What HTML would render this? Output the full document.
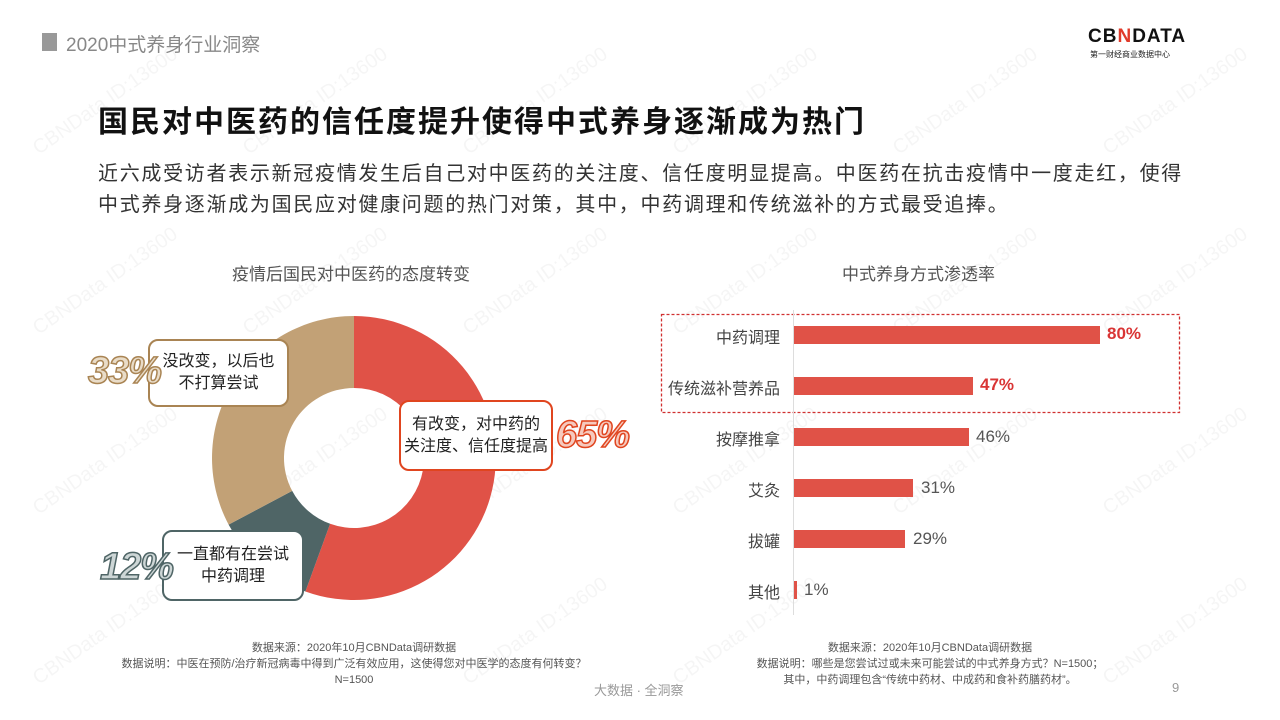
<!DOCTYPE html>
<html><head><meta charset="utf-8"><style>
body{margin:0;width:1280px;height:720px;background:#fff;font-family:"Liberation Sans","Noto Sans CJK SC",sans-serif;position:relative;overflow:hidden;color:#333}
.a{position:absolute;white-space:nowrap}
.wm{position:absolute;color:#000;opacity:.035;font-size:20px;transform:rotate(-35deg);white-space:nowrap}
.pct{position:absolute;font-style:italic;font-weight:bold;font-size:38px;font-family:"Liberation Sans",sans-serif;color:#fff;-webkit-text-stroke:1.5px;letter-spacing:-1px}
.box{position:absolute;background:#fff;border-radius:10px;border:2px solid;box-sizing:border-box;font-size:16px;color:#222;text-align:center;line-height:22px;display:flex;align-items:center;justify-content:center}
.lbl{position:absolute;right:500px;font-size:16px;color:#444}
.bar{position:absolute;left:794px;height:18px;background:#e05247}
.v{position:absolute;font-size:17px;color:#555}
</style></head><body>
<div class="wm" style="left:20px;top:90px">CBNData ID:13600</div>
<div class="wm" style="left:230px;top:90px">CBNData ID:13600</div>
<div class="wm" style="left:450px;top:90px">CBNData ID:13600</div>
<div class="wm" style="left:660px;top:90px">CBNData ID:13600</div>
<div class="wm" style="left:880px;top:90px">CBNData ID:13600</div>
<div class="wm" style="left:1090px;top:90px">CBNData ID:13600</div>
<div class="wm" style="left:20px;top:270px">CBNData ID:13600</div>
<div class="wm" style="left:230px;top:270px">CBNData ID:13600</div>
<div class="wm" style="left:450px;top:270px">CBNData ID:13600</div>
<div class="wm" style="left:660px;top:270px">CBNData ID:13600</div>
<div class="wm" style="left:880px;top:270px">CBNData ID:13600</div>
<div class="wm" style="left:1090px;top:270px">CBNData ID:13600</div>
<div class="wm" style="left:20px;top:450px">CBNData ID:13600</div>
<div class="wm" style="left:230px;top:450px">CBNData ID:13600</div>
<div class="wm" style="left:450px;top:450px">CBNData ID:13600</div>
<div class="wm" style="left:660px;top:450px">CBNData ID:13600</div>
<div class="wm" style="left:880px;top:450px">CBNData ID:13600</div>
<div class="wm" style="left:1090px;top:450px">CBNData ID:13600</div>
<div class="wm" style="left:20px;top:620px">CBNData ID:13600</div>
<div class="wm" style="left:450px;top:620px">CBNData ID:13600</div>
<div class="wm" style="left:660px;top:620px">CBNData ID:13600</div>
<div class="wm" style="left:1090px;top:620px">CBNData ID:13600</div>

<div class="a" style="left:42px;top:33px;width:15px;height:18px;background:#999"></div>
<div class="a" style="left:66px;top:30px;font-size:19px;color:#888">2020中式养身行业洞察</div>
<div class="a" style="left:1088px;top:26px;font-size:19px;font-weight:bold;color:#111;letter-spacing:1px">CB<span style="color:#e03a2a">N</span>DATA</div>
<div class="a" style="left:1090px;top:49px;font-size:8px;color:#222">第一财经商业数据中心</div>

<div class="a" style="left:98px;top:97px;font-size:30px;font-weight:bold;color:#111;letter-spacing:2px">国民对中医药的信任度提升使得中式养身逐渐成为热门</div>
<div class="a" style="left:98px;top:159px;font-size:20px;line-height:31px;color:#333;letter-spacing:1.7px">近六成受访者表示新冠疫情发生后自己对中医药的关注度、信任度明显提高。中医药在抗击疫情中一度走红，使得<br>中式养身逐渐成为国民应对健康问题的热门对策，其中，中药调理和传统滋补的方式最受追捧。</div>

<div class="a" style="left:232px;top:260px;font-size:17px;color:#555">疫情后国民对中医药的态度转变</div>
<div class="a" style="left:842px;top:260px;font-size:17px;color:#555">中式养身方式渗透率</div>

<svg class="a" style="left:0;top:0" width="1280" height="720">
<path d="M354,316 A142,142 0 1 1 305.4,591.5 L330.1,523.8 A70,70 0 1 0 354,388 Z" fill="#e05247"/>
<path d="M305.4,591.5 A142,142 0 0 1 228.6,524.6 L292.2,490.9 A70,70 0 0 0 330.1,523.8 Z" fill="#4f6566"/>
<path d="M228.6,524.6 A142,142 0 0 1 354,316 L354,388 A70,70 0 0 0 292.2,490.9 Z" fill="#c2a176"/>
<rect x="661.5" y="314.5" width="518" height="98" fill="none" stroke="#d03030" stroke-width="1.3" stroke-dasharray="3,2"/>
<line x1="793.5" y1="310" x2="793.5" y2="615" stroke="#ddd" stroke-width="1"/>
</svg>

<div class="box" style="left:148px;top:339px;width:141px;height:68px;border-color:#a98453">没改变，以后也<br>不打算尝试</div>
<div class="box" style="left:399px;top:400px;width:154px;height:71px;border-color:#e0451f">有改变，对中药的<br>关注度、信任度提高</div>
<div class="box" style="left:162px;top:530px;width:142px;height:71px;border-color:#4f6566">一直都有在尝试<br>中药调理</div>
<div class="pct" style="left:88px;top:350px;-webkit-text-stroke-color:#a98453;color:#e9dcc8">33%</div>
<div class="pct" style="left:556px;top:414px;-webkit-text-stroke-color:#e0451f;color:#f6c9bd">65%</div>
<div class="pct" style="left:100px;top:546px;-webkit-text-stroke-color:#4f6566;color:#cdd6d6">12%</div>

<div class="lbl" style="top:324px">中药调理</div>
<div class="lbl" style="top:375px">传统滋补营养品</div>
<div class="lbl" style="top:426px">按摩推拿</div>
<div class="lbl" style="top:477px">艾灸</div>
<div class="lbl" style="top:528px">拔罐</div>
<div class="lbl" style="top:579px">其他</div>
<div class="bar" style="top:326px;width:306px"></div>
<div class="bar" style="top:377px;width:179px"></div>
<div class="bar" style="top:428px;width:175px"></div>
<div class="bar" style="top:479px;width:119px"></div>
<div class="bar" style="top:530px;width:111px"></div>
<div class="bar" style="top:581px;width:3px"></div>
<div class="v" style="left:1107px;top:324px;color:#d93535;font-weight:bold">80%</div>
<div class="v" style="left:980px;top:375px;color:#d93535;font-weight:bold">47%</div>
<div class="v" style="left:976px;top:427px">46%</div>
<div class="v" style="left:921px;top:478px">31%</div>
<div class="v" style="left:913px;top:529px">29%</div>
<div class="v" style="left:804px;top:580px">1%</div>

<div class="a" style="left:0;width:708px;top:640px;text-align:center;font-size:11px;line-height:16px;color:#555">数据来源：2020年10月CBNData调研数据<br>数据说明：中医在预防/治疗新冠病毒中得到广泛有效应用，这使得您对中医学的态度有何转变？<br>N=1500</div>
<div class="a" style="left:730px;top:640px;font-size:11px;line-height:16px;color:#555;text-align:center;width:400px">数据来源：2020年10月CBNData调研数据<br>数据说明：哪些是您尝试过或未来可能尝试的中式养身方式？N=1500；<br>其中，中药调理包含“传统中药材、中成药和食补药膳药材”。</div>
<div class="a" style="left:594px;top:680px;font-size:13px;color:#999">大数据 · 全洞察</div>
<div class="a" style="left:1172px;top:680px;font-size:13px;color:#999">9</div>
</body></html>
